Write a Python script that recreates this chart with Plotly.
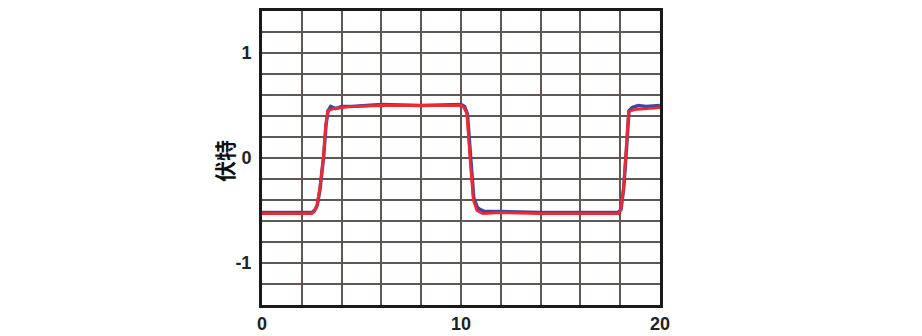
import plotly.graph_objects as go

# time (s) and voltage readings
red_t = [0, 2.5, 2.62, 2.75, 2.9, 3.08, 3.2, 3.3, 3.6, 4.4, 6, 8, 10.0, 10.15, 10.3,
         10.45, 10.62, 10.8, 11.1, 12, 14, 16, 17.9, 18.02, 18.16, 18.3, 18.42, 18.7, 19.2, 20]
red_v = [-0.53, -0.53, -0.51, -0.46, -0.3, 0.0, 0.3, 0.45, 0.47, 0.49, 0.5, 0.5, 0.5, 0.48, 0.42,
         0.0, -0.4, -0.5, -0.53, -0.52, -0.53, -0.53, -0.53, -0.5, -0.3, 0.08, 0.44, 0.46, 0.47, 0.48]

blue_t = [0, 2.5, 2.64, 2.78, 2.92, 3.1, 3.22, 3.32, 3.45, 3.7, 4.0, 4.5, 6, 8, 10.0, 10.18, 10.32,
          10.47, 10.64, 10.82, 10.95, 11.2, 12, 14, 16, 17.9, 18.04, 18.18, 18.32, 18.44, 18.6, 18.9, 19.3, 20]
blue_v = [-0.52, -0.52, -0.5, -0.45, -0.29, 0.02, 0.32, 0.45, 0.49, 0.47, 0.49, 0.49, 0.51, 0.5, 0.51, 0.49, 0.42,
          0.02, -0.38, -0.47, -0.49, -0.51, -0.51, -0.52, -0.52, -0.52, -0.49, -0.28, 0.1, 0.45, 0.48, 0.5, 0.49, 0.5]

x_ticks = [0, 10, 20]
y_ticks = [-1, 0, 1]
y_title = "伏特"

fig = go.Figure()
fig.add_trace(go.Scatter(x=blue_t, y=blue_v, mode="lines",
                         line=dict(color="#3a48a8", width=3.5), showlegend=False))
fig.add_trace(go.Scatter(x=red_t, y=red_v, mode="lines",
                         line=dict(color="#f2282e", width=2.8), showlegend=False))

grid = "#5f5656"
tickfont = dict(family="Liberation Sans Narrow, Liberation Sans", size=18, color="#222", weight="bold")
fig.update_layout(
    width=922, height=336,
    margin=dict(l=262, r=262, t=11, b=31),
    paper_bgcolor="white", plot_bgcolor="white",
    xaxis=dict(range=[0, 20], tickvals=x_ticks, ticktext=[str(v) for v in x_ticks],
               automargin=False,
               showgrid=True, gridcolor=grid, gridwidth=1.5, zeroline=False,
               minor=dict(dtick=2, showgrid=True, gridcolor=grid, gridwidth=1.5),
               showline=True, linecolor="#1a1a1a", linewidth=3, mirror=True,
               ticks="", tickfont=tickfont, ticklabelstandoff=0),
    yaxis=dict(range=[-1.4, 1.4], tickvals=y_ticks, ticktext=[str(v) for v in y_ticks],
               automargin=False,
               showgrid=True, gridcolor=grid, gridwidth=1.5, zeroline=False,
               minor=dict(dtick=0.2, tick0=0, showgrid=True, gridcolor=grid, gridwidth=1.5),
               showline=True, linecolor="#1a1a1a", linewidth=3, mirror=True,
               ticks="", tickfont=tickfont, ticklabelstandoff=4),
    annotations=[dict(text=y_title, xref="paper", yref="paper", x=-0.0955, y=0.49,
                      xanchor="center", yanchor="middle", textangle=-90, showarrow=False,
                      font=dict(family="Noto Sans CJK SC", size=21, color="#111", weight="bold"))],
)
fig.write_html("out.html")
